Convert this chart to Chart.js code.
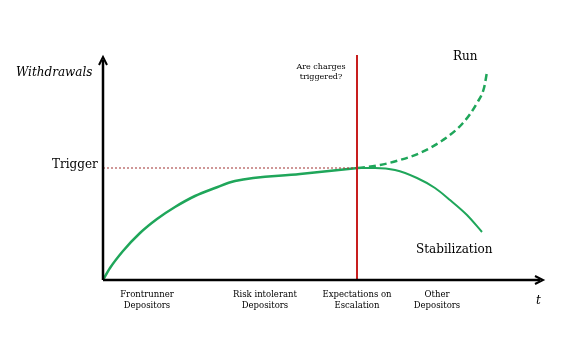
<!DOCTYPE html>
<html>
<head>
<meta charset="utf-8">
<script src="https://cdn.jsdelivr.net/npm/chart.js@4/dist/chart.umd.min.js"></script>
<style>
  body { margin: 0; background: #fff; }
</style>
</head>
<body>
<canvas id="myChart" width="577" height="339"></canvas>
<script>
// curve values (x = time, y = withdrawals)
let baseCurve = [
    { x: 0, y: 0 }, { x: 7, y: 12 }, { x: 20, y: 29 }, { x: 37, y: 47 },
    { x: 54, y: 61 }, { x: 72, y: 73 }, { x: 92, y: 84 }, { x: 112, y: 92 },
    { x: 132, y: 99 }, { x: 197, y: 106 }, { x: 255, y: 112 }
];
let stabilization = [
    { x: 255, y: 112 }, { x: 272, y: 112 }, { x: 292, y: 110 }, { x: 314, y: 102 },
    { x: 332, y: 92 }, { x: 347, y: 80 }, { x: 364, y: 65 }, { x: 379, y: 48 }
];
let run = [
    { x: 255, y: 112 }, { x: 277, y: 115 }, { x: 297, y: 120 }, { x: 317, y: 127 },
    { x: 340, y: 140 }, { x: 360, y: 157 }, { x: 374, y: 177 }, { x: 381, y: 192 },
    { x: 384, y: 208 }
];
let triggerLevel = 112;
let triggerTime = 254;

let phaseLabels = [
    { x: 44, lines: ['Frontrunner', 'Depositors'] },
    { x: 162, lines: ['Risk intolerant', 'Depositors'] },
    { x: 254, lines: ['Expectations on', 'Escalation'] },
    { x: 334, lines: ['Other', 'Depositors'] }
];

const serif = '"DejaVu Serif", "Liberation Serif", serif';

const diagramPlugin = {
    id: 'diagram',
    afterDraw(chart) {
        const ctx = chart.ctx;
        const x = chart.scales.x;
        const y = chart.scales.y;
        const x0 = x.getPixelForValue(0);
        const y0 = y.getPixelForValue(0);
        const xEnd = x.getPixelForValue(440);
        const yTop = y.getPixelForValue(223);

        ctx.save();
        // axes
        ctx.strokeStyle = '#000';
        ctx.fillStyle = '#000';
        ctx.lineWidth = 2.5;
        ctx.beginPath();
        ctx.moveTo(x0, y0);
        ctx.lineTo(x0, yTop + 3);
        ctx.moveTo(x0, y0);
        ctx.lineTo(xEnd - 3, y0);
        ctx.stroke();
        ctx.lineWidth = 2;
        ctx.lineJoin = 'miter';
        ctx.beginPath();
        ctx.moveTo(x0 - 4, yTop + 8);
        ctx.lineTo(x0, yTop);
        ctx.lineTo(x0 + 4, yTop + 8);
        ctx.stroke();
        ctx.beginPath();
        ctx.moveTo(xEnd - 8, y0 - 4);
        ctx.lineTo(xEnd, y0);
        ctx.lineTo(xEnd - 8, y0 + 4);
        ctx.stroke();

        // texts
        ctx.textBaseline = 'middle';
        ctx.font = 'italic 12px ' + serif;
        ctx.textAlign = 'left';
        ctx.fillText('Withdrawals', 16, y.getPixelForValue(207));
        ctx.fillText('t', x.getPixelForValue(433), y.getPixelForValue(-21));

        ctx.font = '12px ' + serif;
        ctx.fillText('Trigger', 52, y.getPixelForValue(triggerLevel + 3));
        ctx.fillText('Run', x.getPixelForValue(350), y.getPixelForValue(223));
        ctx.fillText('Stabilization', x.getPixelForValue(313), y.getPixelForValue(30));

        ctx.font = '8px ' + serif;
        ctx.textAlign = 'center';
        ctx.fillText('Are charges', x.getPixelForValue(218), y.getPixelForValue(213));
        ctx.fillText('triggered?', x.getPixelForValue(218), y.getPixelForValue(203));

        ctx.font = '8.5px ' + serif;
        phaseLabels.forEach(p => {
            const px = x.getPixelForValue(p.x);
            p.lines.forEach((line, i) => {
                ctx.fillText(line, px, y.getPixelForValue(-15 - i * 11));
            });
        });
        ctx.restore();
    }
};

const ctx = document.getElementById('myChart');

new Chart(ctx, {
    type: 'scatter',
    data: {
        datasets: [
            {
                data: [{ x: 0, y: triggerLevel }, { x: triggerTime, y: triggerLevel }],
                showLine: true,
                borderColor: '#a03030',
                borderWidth: 1,
                borderDash: [2, 2],
                pointRadius: 0
            },
            {
                data: [{ x: triggerTime, y: 0 }, { x: triggerTime, y: 225 }],
                showLine: true,
                borderColor: '#c81e1e',
                borderWidth: 2,
                pointRadius: 0
            },
            {
                data: baseCurve,
                showLine: true,
                borderColor: '#1fa65a',
                borderWidth: 2.5,
                cubicInterpolationMode: 'monotone',
                pointRadius: 0
            },
            {
                data: stabilization,
                showLine: true,
                borderColor: '#1fa65a',
                borderWidth: 2,
                cubicInterpolationMode: 'monotone',
                pointRadius: 0
            },
            {
                data: run,
                showLine: true,
                borderColor: '#1fa65a',
                borderWidth: 2.5,
                borderDash: [7, 4],
                cubicInterpolationMode: 'monotone',
                pointRadius: 0
            }
        ]
    },
    options: {
        responsive: false,
        animation: false,
        layout: { padding: { left: 103, right: 32, top: 55, bottom: 59 } },
        plugins: { legend: { display: false }, tooltip: { enabled: false } },
        scales: {
            x: { type: 'linear', display: false, min: 0, max: 442 },
            y: { type: 'linear', display: false, min: 0, max: 225 }
        }
    },
    plugins: [diagramPlugin]
});
</script>
</body>
</html>
